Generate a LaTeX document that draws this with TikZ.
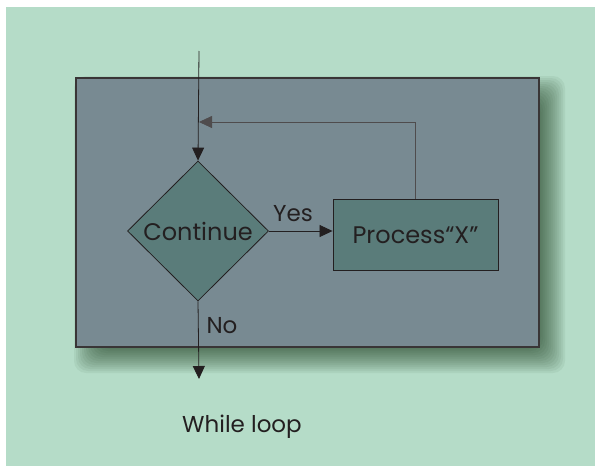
\documentclass[tikz,border=0pt]{standalone}
\usepackage{fontspec}
\setmainfont{Poppins}
\usetikzlibrary{shapes.geometric,arrows.meta}
\definecolor{bggreen}{HTML}{B5DCC8}
\definecolor{panelgrey}{HTML}{788A92}
\definecolor{shapefill}{HTML}{5A7C7A}
\definecolor{ink}{HTML}{231F20}
\tikzset{
  panel/.style={fill=panelgrey, draw=ink!90, line width=1.2pt},
  shadowlayer/.style={fill=black!70!green!40!black, fill opacity=0.05, rounded corners=12pt},
  decision/.style={diamond, draw=ink, fill=shapefill, line width=0.8pt, inner sep=0pt,
    minimum width=141pt, minimum height=140pt, font=\fontsize{24}{28}\selectfont, text=ink},
  procbox/.style={rectangle, draw=ink, fill=shapefill, line width=0.9pt,
    minimum width=165pt, minimum height=71pt, font=\fontsize{24}{28}\selectfont, text=ink},
  flow/.style={draw=ink, line width=0.8pt, -{Triangle[length=13pt,width=12pt]}},
  lbl/.style={font=\fontsize{23}{26}\selectfont, text=ink, inner sep=0pt},
}
\begin{document}
\begin{tikzpicture}[x=1pt,y=-1pt]
\useasboundingbox (0,0) rectangle (595,466);
\fill[white] (0,0) rectangle (595,466);
\fill[bggreen] (6,7) rectangle (595,466);
\foreach \e in {-14,-12,...,14}{
  \fill[shadowlayer] (88-\e,90-\e) rectangle (551+\e,359+\e);
}
\path[panel] (76,78) rectangle (539,347);
\node[decision] (d) at (198,231) {Continue};
\node[procbox] (p) at (415.5,235) {Process“X”};
\coordinate (top) at (199,51);
\coordinate (j) at (199,122);
\coordinate (bot) at (199,379);
\draw[flow] (top) -- (d.north);
\draw[flow] (d.east) -- (d.east -| p.west);
\draw[flow, draw=ink!80] (p.north) |- (j);
\draw[flow] (d.south) -- (bot);
\node[lbl] (yes) at (293,214) {Yes};
\node[lbl] (no) at (222,326) {No};
\node[lbl] (cap) at (242,427) {While loop};
\end{tikzpicture}
\end{document}
